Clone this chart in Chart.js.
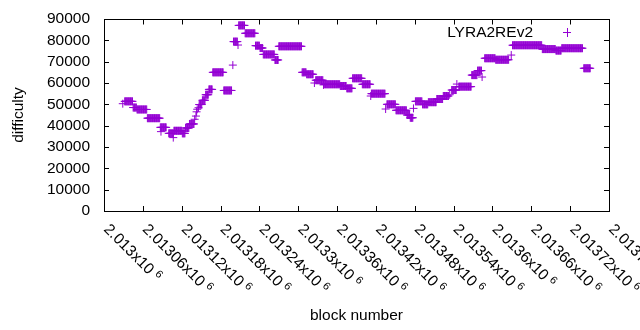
<!DOCTYPE html>
<html>
<head>
<meta charset="utf-8">
<title>LYRA2REv2 difficulty</title>
<script src="https://cdn.jsdelivr.net/npm/chart.js@4"></script>
<style>
  html, body { margin: 0; padding: 0; background: #fff; }
  #wrap { width: 640px; height: 330px; }
</style>
</head>
<body>
<div id="wrap"><canvas id="difficultyChart"></canvas></div>
<script>
const seriesName = 'LYRA2REv2';

// runs of blocks that share one difficulty value (first block, last block, difficulty)
const runStart = [2013029, 2013032, 2013045, 2013051, 2013067, 2013087, 2013088, 2013100, 2013107, 2013108,
                  2013121, 2013126, 2013132, 2013140, 2013142, 2013143, 2013144, 2013146, 2013147, 2013152,
                  2013157, 2013162, 2013168, 2013185, 2013199, 2013200, 2013207, 2013208, 2013218, 2013234,
                  2013241, 2013246, 2013264, 2013270, 2013306, 2013313, 2013325, 2013327, 2013339, 2013340,
                  2013365, 2013375, 2013384, 2013399, 2013412, 2013413, 2013435, 2013437, 2013451, 2013468,
                  2013473, 2013478, 2013481, 2013492, 2013501, 2013514, 2013524, 2013534, 2013537, 2013545,
                  2013548, 2013568, 2013577, 2013584, 2013588, 2013605, 2013629, 2013631, 2013677, 2013698,
                  2013707, 2013741];
const runEnd   = [2013029, 2013044, 2013050, 2013066, 2013086, 2013096, 2013088, 2013107, 2013107, 2013120,
                  2013125, 2013131, 2013139, 2013140, 2013142, 2013143, 2013144, 2013146, 2013151, 2013156,
                  2013161, 2013167, 2013184, 2013197, 2013199, 2013206, 2013207, 2013217, 2013233, 2013240,
                  2013245, 2013263, 2013269, 2013305, 2013312, 2013323, 2013325, 2013338, 2013339, 2013364,
                  2013374, 2013383, 2013398, 2013411, 2013412, 2013434, 2013435, 2013450, 2013467, 2013472,
                  2013477, 2013478, 2013491, 2013500, 2013513, 2013523, 2013532, 2013534, 2013544, 2013545,
                  2013567, 2013576, 2013583, 2013584, 2013604, 2013625, 2013629, 2013676, 2013697, 2013706,
                  2013739, 2013751];
const runValue = [50300, 51400, 48500, 47600, 43500, 39200, 37200, 36400, 34400, 37600,
                  36400, 38900, 40800, 43000, 44500, 46500, 47700, 48400, 49900, 51900,
                  54500, 57000, 65000, 56500, 68400, 79400, 77800, 87000, 83300, 77500,
                  76400, 73400, 70800, 77200, 65000, 64100, 60000, 61300, 59100, 59400,
                  58600, 57500, 62200, 59400, 53900, 55000, 47800, 50000, 47200, 45000,
                  43700, 48100, 51400, 50000, 51000, 52500, 53900, 54500, 56700, 59500,
                  58300, 63700, 65800, 62800, 71600, 70900, 73100, 77700, 75900, 75200,
                  76300, 66900];

const xTickValues = [2013000, 2013060, 2013120, 2013180, 2013240, 2013300, 2013360,
                     2013420, 2013480, 2013540, 2013600, 2013660, 2013720, 2013780];
const yTickValues = [0, 10000, 20000, 30000, 40000, 50000, 60000, 70000, 80000, 90000];

const points = [];
runStart.forEach((first, i) => {
  for (let b = first; b <= runEnd[i]; b++) points.push({ x: b, y: runValue[i] });
});

const violet = '#9400d3';
const font = '"Liberation Sans", Arial, sans-serif';

// "2.01306x10^6" style labels
function mantissa(v) {
  return parseFloat((v / 1e6).toFixed(5)).toString();
}

// gnuplot look: box, inward ticks on all sides, slanted x labels, key inside the plot
const gnuplotLook = {
  id: 'gnuplotLook',
  beforeDatasetsDraw(chart) {
    const { ctx, chartArea: a, scales: { x, y } } = chart;
    ctx.save();
    ctx.strokeStyle = '#000';
    ctx.lineWidth = 1;
    const top = Math.round(a.top) + 0.5;
    ctx.strokeRect(a.left + 0.5, top, a.right - a.left, a.bottom - Math.round(a.top));
    ctx.beginPath();
    x.ticks.forEach(t => {
      const px = Math.round(x.getPixelForValue(t.value)) + 0.5;
      ctx.moveTo(px, a.bottom); ctx.lineTo(px, a.bottom - 5);
      ctx.moveTo(px, top); ctx.lineTo(px, top + 5);
    });
    y.ticks.forEach(t => {
      const py = Math.round(y.getPixelForValue(t.value)) + 0.5;
      ctx.moveTo(a.left, py); ctx.lineTo(a.left + 5, py);
      ctx.moveTo(a.right, py); ctx.lineTo(a.right - 5, py);
    });
    ctx.stroke();
    ctx.restore();
  },
  afterDraw(chart) {
    const { ctx, chartArea: a, scales: { x } } = chart;
    ctx.save();
    ctx.fillStyle = '#000';
    x.ticks.forEach(t => {
      const px = x.getPixelForValue(t.value);
      ctx.save();
      ctx.translate(px - 1, a.bottom + 19);
      ctx.rotate(Math.PI / 4);
      ctx.textAlign = 'left';
      ctx.textBaseline = 'alphabetic';
      ctx.font = '15.5px ' + font;
      const main = mantissa(t.value) + 'x10';
      ctx.fillText(main, 0, 0);
      const w = ctx.measureText(main).width;
      ctx.font = '11px ' + font;
      ctx.fillText('6', w + 4, -5);
      ctx.restore();
    });

    // key
    const ds = chart.data.datasets[0];
    ctx.font = '15.5px ' + font;
    ctx.textAlign = 'right';
    ctx.textBaseline = 'middle';
    ctx.fillText(ds.label, 533, 33);
    ctx.strokeStyle = violet;
    ctx.lineWidth = 1;
    ctx.beginPath();
    ctx.moveTo(563, 32.5); ctx.lineTo(571, 32.5);
    ctx.moveTo(567.5, 28); ctx.lineTo(567.5, 37);
    ctx.stroke();
    ctx.restore();
  }
};

new Chart(document.getElementById('difficultyChart'), {
  type: 'scatter',
  plugins: [gnuplotLook],
  data: {
    datasets: [{
      label: seriesName,
      data: points,
      pointStyle: 'cross',
      pointRadius: 4,
      pointBorderWidth: 1,
      borderColor: violet,
      backgroundColor: violet
    }]
  },
  options: {
    responsive: true,
    maintainAspectRatio: false,
    animation: false,
    events: [],
    layout: { padding: { left: 0, right: 31, top: 19, bottom: 0 } },
    plugins: {
      legend: { display: false },
      tooltip: { enabled: false }
    },
    scales: {
      x: {
        type: 'linear',
        min: 2013000,
        max: 2013780,
        afterBuildTicks: s => { s.ticks = xTickValues.map(v => ({ value: v })); },
        afterFit: s => { s.height = 119; },
        grid: { display: false, drawTicks: false },
        border: { display: false },
        ticks: { display: false, autoSkip: false },
        title: {
          display: true,
          text: 'block number',
          color: '#000',
          font: { family: font, size: 15.5 },
          padding: { top: 0, bottom: 5 }
        }
      },
      y: {
        min: 0,
        max: 90000,
        afterBuildTicks: s => { s.ticks = yTickValues.map(v => ({ value: v })); },
        afterFit: s => { s.width = 104; },
        // tickLength only pushes the labels away from the axis, nothing is drawn
        grid: { display: false, drawTicks: true, tickLength: 14 },
        border: { display: false },
        ticks: {
          color: '#000',
          padding: 0,
          autoSkip: false,
          font: { family: font, size: 15.5 },
          callback: v => String(v)
        },
        title: {
          display: true,
          text: 'difficulty',
          color: '#000',
          font: { family: font, size: 15.5 },
          padding: { top: 9, bottom: 0 }
        }
      }
    }
  }
});
</script>
</body>
</html>
